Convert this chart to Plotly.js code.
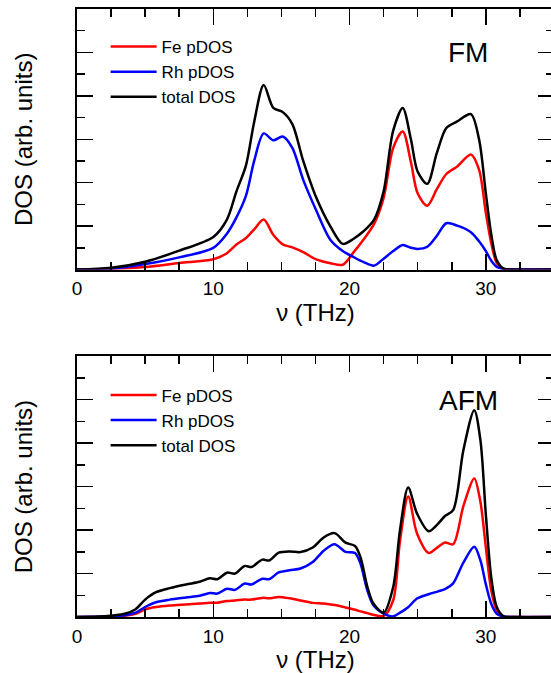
<!DOCTYPE html>
<html>
<head>
<meta charset="utf-8">
<script src="https://cdn.plot.ly/plotly-3.0.1.min.js"></script>
<style>
html,body{margin:0;padding:0;background:#fff;overflow:hidden;}
#chart{width:555px;height:673px;}
</style>
</head>
<body>
<div id="chart"></div>
<script>
// ---------- FM panel (top) ----------
const fmFreq = [0, 2.5, 5, 7.5, 10, 11, 11.7, 12.4, 13.0, 13.7, 14.4, 15.1, 15.8, 16.6, 17.5, 18.6, 19.5, 20.3, 21.0, 21.8, 22.5, 23.2, 23.9, 24.5, 25.0, 25.7, 26.4, 27.1, 27.9, 28.9, 29.5, 30.0, 30.4, 30.8, 31.3, 32, 35];
const fmFe    = [0, 0.03, 0.12, 0.3, 0.47, 0.75, 1.15, 1.45, 1.85, 2.3, 1.6, 1.16, 1.02, 0.8, 0.48, 0.29, 0.22, 0.8, 1.36, 2.1, 3.3, 5.6, 6.36, 4.95, 3.5, 2.94, 3.7, 4.4, 4.75, 5.3, 4.6, 2.6, 1.2, 0.3, 0.02, 0, 0];
const fmRh    = [0, 0.04, 0.25, 0.56, 1.0, 1.65, 2.4, 3.4, 5.0, 6.27, 5.95, 6.13, 5.6, 4.13, 2.8, 1.36, 0.85, 0.57, 0.35, 0.18, 0.5, 0.85, 1.13, 1.0, 0.95, 1.05, 1.55, 2.13, 2.02, 1.72, 1.3, 0.85, 0.4, 0.12, 0.02, 0, 0];
const fmTotal = [0, 0.08, 0.36, 0.87, 1.5, 2.3, 3.6, 4.8, 6.8, 8.5, 7.45, 7.25, 6.7, 5.0, 3.4, 1.98, 1.18, 1.42, 1.75, 2.3, 3.6, 6.4, 7.44, 6.0, 4.5, 3.95, 5.36, 6.52, 6.82, 7.16, 6.0, 3.5, 1.6, 0.42, 0.04, 0, 0];

// ---------- AFM panel (bottom) ----------
const afmFreq = [0, 2, 3.5, 4.3, 5.0, 5.8, 6.8, 8.0, 9.0, 9.75, 10.3, 11.0, 11.6, 12.3, 12.8, 13.6, 14.1, 14.8, 15.6, 16.4, 17.3, 18.1, 18.9, 19.7, 20.4, 20.8, 21.3, 21.75, 22.5, 23.2, 23.7, 24.3, 24.95, 25.8, 26.5, 27.0, 27.6, 28.35, 29.15, 29.6, 30.0, 30.4, 30.8, 31.3, 32, 35];
const afmFe    = [0, 0.01, 0.06, 0.15, 0.35, 0.46, 0.53, 0.58, 0.62, 0.66, 0.66, 0.74, 0.76, 0.8, 0.8, 0.88, 0.86, 0.92, 0.86, 0.76, 0.65, 0.62, 0.55, 0.44, 0.33, 0.26, 0.18, 0.1, 0.05, 0.77, 3.5, 5.55, 3.84, 2.95, 3.23, 3.43, 3.35, 5.1, 6.38, 5.3, 3.2, 1.2, 0.31, 0.02, 0, 0];
const afmRh    = [0, 0.02, 0.08, 0.2, 0.46, 0.68, 0.8, 0.9, 0.98, 1.1, 1.08, 1.3, 1.25, 1.54, 1.5, 1.76, 1.74, 2.05, 2.15, 2.23, 2.53, 3.05, 3.35, 3.0, 2.95, 2.46, 1.23, 0.54, 0.16, 0.03, 0.2, 0.45, 0.85, 1.05, 1.18, 1.28, 1.55, 2.5, 3.23, 2.61, 1.5, 0.6, 0.15, 0.02, 0, 0];
const afmTotal = [0, 0.03, 0.15, 0.36, 0.8, 1.14, 1.33, 1.5, 1.62, 1.78, 1.74, 2.04, 2.0, 2.35, 2.3, 2.64, 2.6, 2.96, 3.02, 2.99, 3.2, 3.66, 3.86, 3.42, 3.27, 2.75, 1.4, 0.62, 0.2, 1.38, 4.0, 5.96, 4.76, 3.95, 4.3, 4.65, 4.92, 7.68, 9.52, 8.14, 4.7, 1.8, 0.46, 0.03, 0, 0];

const seriesNames = ['Fe pDOS', 'Rh pDOS', 'total DOS'];
const seriesColors = ['#ff0000', '#0000ff', '#000000'];
const panelLabels = ['FM', 'AFM'];
const xTicks = [0, 10, 20, 30];

const FONT = 'Liberation Sans, Arial, Helvetica, sans-serif';

function mk(x, y, i, xa, ya, leg) {
  return {
    x: x, y: y, type: 'scatter', mode: 'lines',
    name: seriesNames[i], xaxis: xa, yaxis: ya, legend: leg,
    line: {color: seriesColors[i], width: 2.5, shape: 'spline', smoothing: 0.85},
    hoverinfo: 'skip'
  };
}

const data = [
  mk(fmFreq, fmFe, 0, 'x', 'y', 'legend'),
  mk(fmFreq, fmRh, 1, 'x', 'y', 'legend'),
  mk(fmFreq, fmTotal, 2, 'x', 'y', 'legend'),
  mk(afmFreq, afmFe, 0, 'x2', 'y2', 'legend2'),
  mk(afmFreq, afmRh, 1, 'x2', 'y2', 'legend2'),
  mk(afmFreq, afmTotal, 2, 'x2', 'y2', 'legend2')
];

function xaxis(anchor) {
  return {
    anchor: anchor, domain: [0, 1], range: [0, 35],
    showline: true, linecolor: '#000', linewidth: 2, mirror: 'allticks',
    ticks: 'inside', ticklen: 16, tickwidth: 1.5, tickcolor: '#000',
    tickvals: xTicks, ticktext: xTicks.map(String),
    minor: {dtick: 2.5, ticks: 'inside', ticklen: 8, tickwidth: 1.5, tickcolor: '#000', showgrid: false},
    showgrid: false, zeroline: false,
    tickfont: {family: FONT, size: 19, color: '#000'},
    ticklabelstandoff: 1,
    title: {text: '\u03bd (THz)', font: {family: FONT, size: 24, color: '#000'}, standoff: 0}
  };
}
function yaxis(anchor, domain) {
  return {
    anchor: anchor, domain: domain, range: [0, 12],
    showline: true, linecolor: '#000', linewidth: 2, mirror: 'allticks',
    ticks: 'inside', ticklen: 16, tickwidth: 1.5, tickcolor: '#000', dtick: 2, tick0: 0,
    minor: {dtick: 1, ticks: 'inside', ticklen: 8, tickwidth: 1.5, tickcolor: '#000', showgrid: false},
    showticklabels: false, showgrid: false, zeroline: false,
    title: {text: 'DOS (arb. units)', font: {family: FONT, size: 24, color: '#000'}, standoff: 36}
  };
}

const legendBase = {
  xanchor: 'left', yanchor: 'top', bgcolor: 'rgba(0,0,0,0)', borderwidth: 0,
  font: {family: FONT, size: 17, color: '#000'}, itemwidth: 46, tracegroupgap: 0
};

const layout = {
  width: 555, height: 673,
  margin: {l: 77, r: 1, t: 9, b: 56},
  paper_bgcolor: '#fff', plot_bgcolor: '#fff',
  showlegend: true,
  xaxis: xaxis('y'),
  yaxis: yaxis('x', [0.5715, 1]),
  xaxis2: xaxis('y2'),
  yaxis2: yaxis('x2', [0, 0.4288]),
  legend: Object.assign({}, legendBase, {x: 0.06, y: 0.967}),
  legend2: Object.assign({}, legendBase, {x: 0.06, y: 0.394}),
  annotations: [
    {xref: 'x', yref: 'y', x: 28.7, y: 10.0, text: panelLabels[0], showarrow: false,
     xanchor: 'center', yanchor: 'middle', font: {family: FONT, size: 28, color: '#000'}},
    {xref: 'x2', yref: 'y2', x: 28.7, y: 9.95, text: panelLabels[1], showarrow: false,
     xanchor: 'center', yanchor: 'middle', font: {family: FONT, size: 28, color: '#000'}}
  ]
};

Plotly.newPlot('chart', data, layout, {staticPlot: true, displayModeBar: false});
</script>
</body>
</html>
